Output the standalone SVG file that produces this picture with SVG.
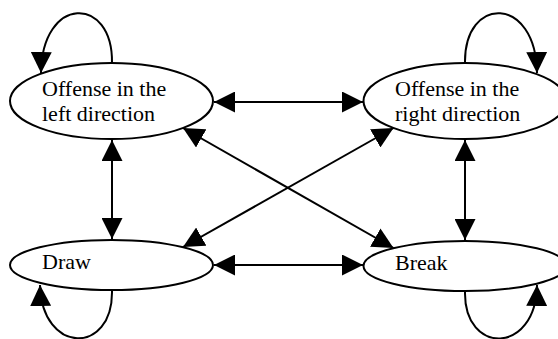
<svg xmlns="http://www.w3.org/2000/svg" width="558" height="339" viewBox="0 0 558 339">
<style>
.n{fill:#fff;stroke:#000;stroke-width:2}
.t{font-family:"Liberation Serif","Times New Roman",serif;font-size:22px;fill:#000}
.e{fill:none;stroke:#000;stroke-width:2}
.d{marker-end:url(#ah);marker-start:url(#ah)}
.s{marker-end:url(#ah)}
</style>
<defs>
<marker id="ah" viewBox="0 0 21 21" refX="21" refY="10.5" markerWidth="21" markerHeight="21" markerUnits="userSpaceOnUse" orient="auto-start-reverse">
<path d="M0,0 L21,10.5 L0,21 z" fill="#000"/>
</marker>
</defs>
<rect width="558" height="339" fill="#fff"/>
<g id="connectors">
<path class="e d" d="M214,102 L363,102"/>
<path class="e d" d="M214,265 L363,265"/>
<path class="e d" d="M112,140 L112,239"/>
<path class="e d" d="M465,140 L465,240"/>
<path class="e d" d="M183,128 L393.5,248"/>
<path class="e d" d="M393.5,128 L183,247"/>
<path class="e s" d="M112,63 C113,-5 42,-5 41,73"/>
<path class="e s" d="M465,63 C464,-5 536,-5 537,73"/>
<path class="e s" d="M112,291 C113,355 42,355 40,285"/>
<path class="e s" d="M465,292 C464,355 536,355 537,285"/>
</g>
<g id="offense-left">
<ellipse class="n" cx="111.5" cy="101" rx="101.5" ry="38"/>
<text class="t" x="42" y="96">Offense in the</text>
<text class="t" x="42" y="121">left direction</text>
</g>
<g id="offense-right">
<ellipse class="n" cx="465" cy="101" rx="101.5" ry="38"/>
<text class="t" x="395" y="96">Offense in the</text>
<text class="t" x="395" y="121">right direction</text>
</g>
<g id="draw">
<ellipse class="n" cx="111.5" cy="265" rx="101.5" ry="25"/>
<text class="t" x="42" y="269">Draw</text>
</g>
<g id="break">
<ellipse class="n" cx="465" cy="266" rx="101.5" ry="25"/>
<text class="t" x="395" y="270">Break</text>
</g>
</svg>
